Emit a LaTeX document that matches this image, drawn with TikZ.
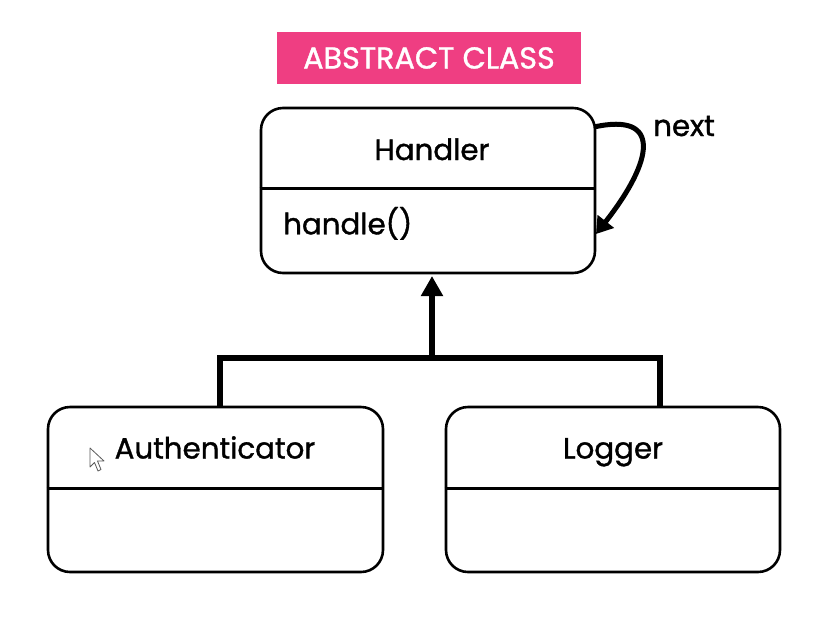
\documentclass[tikz,border=0pt]{standalone}
\usepackage{fontspec}
\setmainfont{Poppins}[FakeBold=1.2]
\usetikzlibrary{arrows.meta,calc}
\definecolor{pinkbg}{HTML}{EF3E82}
\begin{document}
\begin{tikzpicture}[x=1pt,y=-1pt,
  classbox/.style={draw=black,line width=2.6pt,rounded corners=22pt,fill=white},
  divider/.style={draw=black,line width=2.6pt},
  conn/.style={draw=black,line width=5.2pt},
  lbl/.style={font=\fontsize{29.3}{34}\selectfont,text=black,inner sep=0pt,anchor=base}]
\useasboundingbox[fill=white] (0,0) rectangle (831,641);
% title
\fill[pinkbg] (277,32) rectangle (581,84);
\node[inner sep=0pt,text=white,anchor=base,
  font=\fontsize{30.2}{34}\selectfont] (title) at (429,68.5) {ABSTRACT CLASS};
% Handler
\node[classbox,minimum width=334pt,minimum height=165pt] (handler) at (428,190.5) {};
\draw[divider] ($(handler.north west)+(0,82)$) -- ($(handler.north east)+(0,82)$);
\node[lbl] (hname) at (432,160) {Handler};
\node[lbl,anchor=base west] (hop) at (283,234.3) {handle()};
% Authenticator
\node[classbox,minimum width=335pt,minimum height=165pt] (auth) at (215.5,489.5) {};
\draw[divider] ($(auth.north west)+(0,83)$) -- ($(auth.north east)+(0,83)$);
\node[lbl] (aname) at (215,458.5) {Authenticator};
% Logger
\node[classbox,minimum width=334pt,minimum height=165pt] (logger) at (613,489.5) {};
\draw[divider] ($(logger.north west)+(0,83)$) -- ($(logger.north east)+(0,83)$);
\node[lbl] (lname) at (613,458.5) {Logger};
% next self-association
\coordinate (nstart) at (594,127);
\coordinate (nend) at (596,234);
\draw[line width=5pt,-{Triangle[length=16pt,width=20pt]}] (nstart) .. controls (662,112) and (654,160) .. (nend);
\node[lbl] (next) at (684,136) {next};
% inheritance
\coordinate (junction) at (432,358);
\coordinate (jleft) at (220,358);
\coordinate (jright) at (660,358);
\draw[conn,-{Triangle[length=20pt,width=21pt]}] (junction) -- (432,276);
\draw[conn,line cap=rect] (jleft) -- (jright);
\draw[conn] (jleft) -- (jleft |- auth.north);
\draw[conn] (jright) -- (jright |- logger.north);
% mouse cursor
\draw[gray!70!black,fill=white,line width=0.8pt,line join=round]
  (90,448) -- (90,467) -- (94.5,462.5) -- (98,471) -- (101,469.5) -- (97.5,461) -- (104,461) -- cycle;
\end{tikzpicture}
\end{document}
